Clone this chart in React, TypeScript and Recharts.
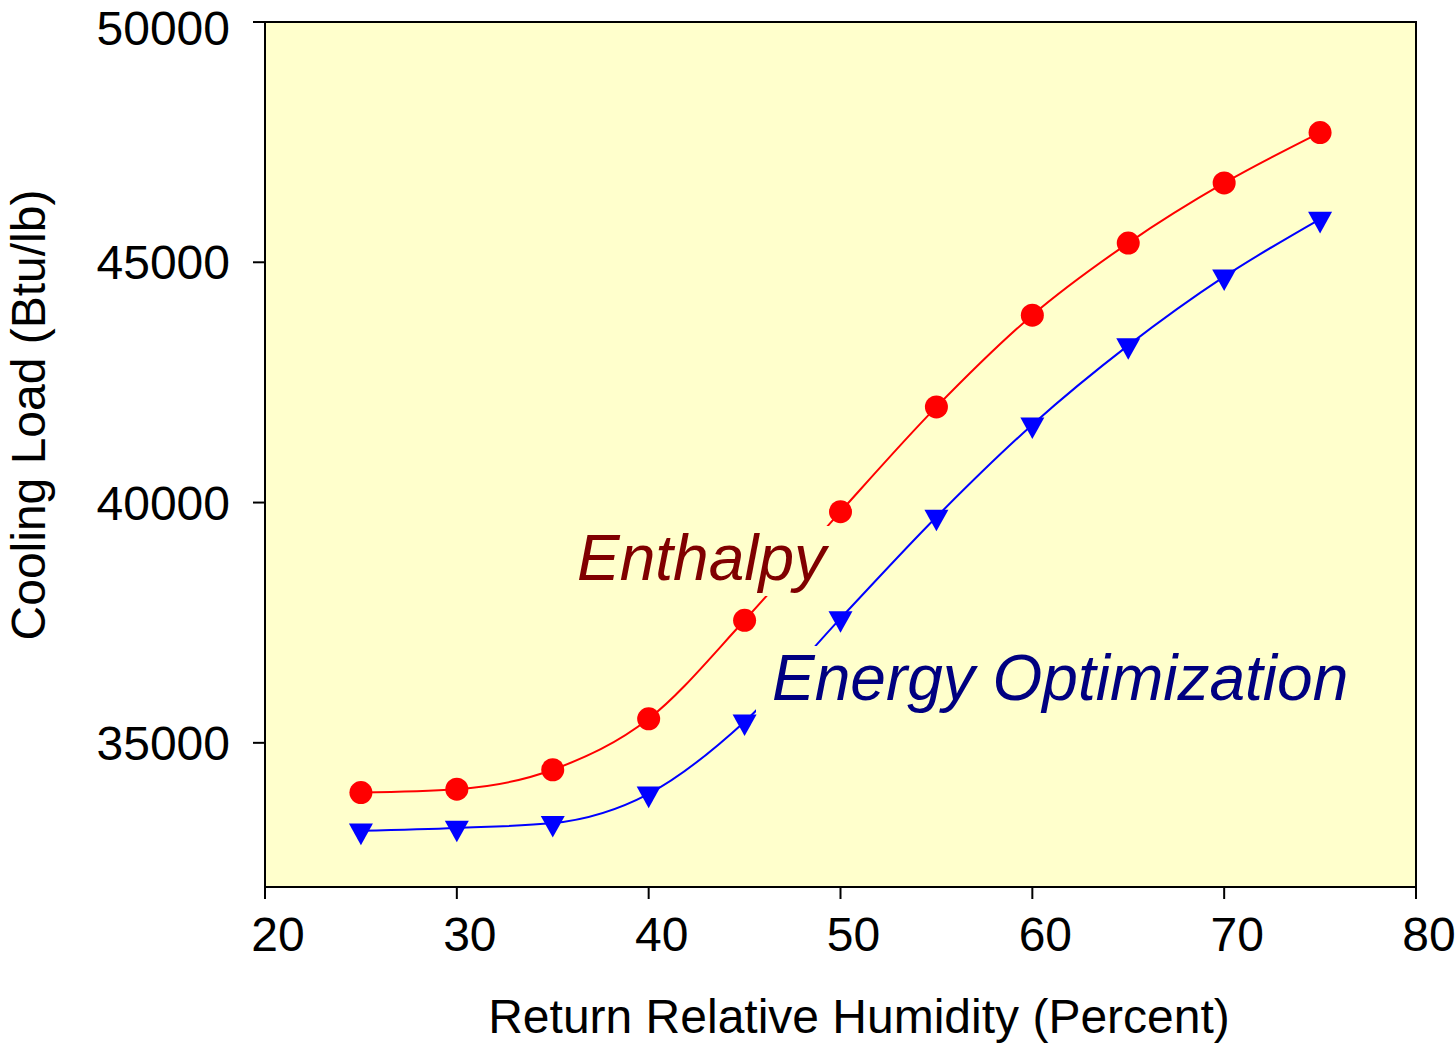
import { LineChart, Line, XAxis, YAxis, ReferenceArea } from 'recharts';

// Return relative humidity (%) and cooling loads (Btu/lb) for each control strategy
const humidity = [25, 30, 35, 40, 45, 50, 55, 60, 65, 70, 75];
const enthalpy = [33965, 34035, 34440, 35500, 37550, 39810, 41990, 43900, 45400, 46650, 47700];
const energyOpt = [33170, 33230, 33330, 33940, 35440, 37590, 39700, 41620, 43270, 44700, 45900];

const xTicks = [20, 30, 40, 50, 60, 70, 80];
const yTicks = [35000, 40000, 45000, 50000];

const data = humidity.map((h, i) => ({ rh: h, enthalpy: enthalpy[i], energy: energyOpt[i] }));

const FONT = '"Liberation Sans", Arial, Helvetica, sans-serif';
const PLOT_BG = '#FFFFCC';

const RedDot = ({ cx, cy, index }: any) => (
  <circle key={`e-${index}`} cx={cx} cy={cy} r={11.5} fill="#FF0000" />
);

// downward triangle centred on its centroid
const BlueTriangle = ({ cx, cy, index }: any) => {
  const w = 12;
  const h = 21.6;
  const pts = `${cx - w},${cy - h / 3} ${cx + w},${cy - h / 3} ${cx},${cy + (2 * h) / 3}`;
  return <polygon key={`o-${index}`} points={pts} fill="#0000FF" />;
};

const XTick = ({ x, y, payload }: any) => (
  <text x={x + 13} y={y} dy="0.71em" textAnchor="middle" fontSize={48} fontFamily={FONT} fill="#000">
    {payload.value}
  </text>
);

const App = () => {
  return (
    <div style={{ position: 'absolute', left: 0, top: 0, width: 1456, height: 1044, background: '#fff' }}>
      <LineChart
        width={1456}
        height={1044}
        data={data}
        margin={{ top: 22, right: 40, bottom: 0, left: 0 }}
        style={{ fontFamily: FONT }}
      >
        <ReferenceArea
          x1={20}
          x2={80}
          y1={32000}
          y2={50000}
          fill={PLOT_BG}
          fillOpacity={1}
          stroke="#000"
          strokeWidth={2}
        />
        <XAxis
          dataKey="rh"
          type="number"
          domain={[20, 80]}
          ticks={xTicks}
          height={157}
          tickSize={12}
          tickMargin={18}
          stroke="#000"
          strokeWidth={2}
          tick={<XTick />}
          label={{
            content: () => (
              <text x={859} y={1033} textAnchor="middle" fontSize={48} fontFamily={FONT} fill="#000">
                Return Relative Humidity (Percent)
              </text>
            ),
          }}
        />
        <YAxis
          type="number"
          domain={[32000, 50000]}
          ticks={yTicks}
          width={265}
          tickSize={12}
          tickMargin={23}
          stroke="#000"
          strokeWidth={2}
          tick={{ fill: '#000', fontSize: 48, fontFamily: FONT }}
          label={{
            content: () => (
              <text
                x={45}
                y={415}
                transform="rotate(-90, 45, 415)"
                textAnchor="middle"
                fontSize={48}
                fontFamily={FONT}
                fill="#000"
              >
                Cooling Load (Btu/lb)
              </text>
            ),
          }}
        />
        <Line
          type="monotone"
          dataKey="enthalpy"
          stroke="#FF0000"
          strokeWidth={2}
          dot={RedDot}
          activeDot={false}
          isAnimationActive={false}
        />
        <Line
          type="monotone"
          dataKey="energy"
          stroke="#0000FF"
          strokeWidth={2}
          dot={BlueTriangle}
          activeDot={false}
          isAnimationActive={false}
        />
      </LineChart>

      {/* series captions, boxed in the plot colour so the curves break behind them */}
      <div
        style={{
          position: 'absolute',
          left: 573,
          top: 526,
          padding: '0 4px 6px 4px',
          background: PLOT_BG,
          color: '#800000',
          fontFamily: FONT,
          fontStyle: 'italic',
          fontSize: 64,
          lineHeight: '64px',
          whiteSpace: 'nowrap',
        }}
      >
        Enthalpy
      </div>
      <div
        style={{
          position: 'absolute',
          left: 756,
          top: 646,
          padding: '0 6px 4px 16px',
          background: PLOT_BG,
          color: '#000080',
          fontFamily: FONT,
          fontStyle: 'italic',
          fontSize: 64,
          lineHeight: '64px',
          whiteSpace: 'nowrap',
        }}
      >
        Energy Optimization
      </div>
    </div>
  );
};

export default App;
